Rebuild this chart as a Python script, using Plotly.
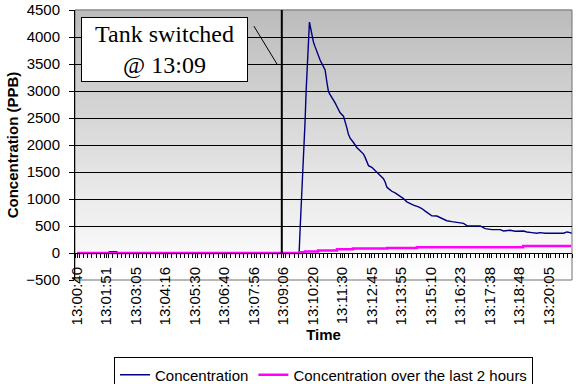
import plotly.graph_objects as go

# ---------------- data ----------------
tick_labels = ["13:00:40", "13:01:51", "13:03:05", "13:04:16", "13:05:30", "13:06:40",
               "13:07:56", "13:09:06", "13:10:20", "13:11:30", "13:12:45", "13:13:55",
               "13:15:10", "13:16:23", "13:17:38", "13:18:48", "13:20:05"]
label_every = 7          # a label every 7 samples
n_samples = 118          # samples on the category axis
tick_positions = [i * label_every for i in range(len(tick_labels))]

# Concentration (PPB), vertices (x = sample position)
conc_pos = [0, 7.4, 7.65, 9.4, 9.65, 52.6,
            52.71, 52.94, 53.18, 53.42, 53.66, 53.89, 54.13, 54.37, 54.69, 54.92, 55.16,
            55.40, 55.64, 55.87, 56.11, 56.51, 56.90, 57.30, 57.69, 58.09, 58.49, 58.88,
            59.28, 59.67, 60.07, 60.47, 60.86, 61.26, 61.65, 62.05, 62.45, 63.24, 63.63,
            64.03, 64.42, 64.82, 65.61, 66.40, 67.20, 67.99, 68.38, 68.78, 69.18, 69.97,
            70.76, 71.55, 71.95,
            72.74, 73.13, 73.53, 73.93, 74.72, 75.51, 76.30, 77.09, 77.49, 78.28, 79.07,
            79.86, 81.05, 81.84, 82.64, 83.43, 84.22, 85.41, 86.20, 86.99, 87.78, 88.97,
            90.55, 91.74, 92.53,
            95.70, 96.89, 98.47, 100.45, 101.24, 102.83, 104.01, 105.99, 106.78, 107.97,
            109.16, 109.95, 111.14, 115.5, 116.29, 117.08, 117.4]
conc_val = [0, 0, 22, 22, 0, 0,
            0, 427, 794, 1160, 1496, 1954, 2443, 2992, 3512, 3970, 4275,
            4183, 4061, 3970, 3908, 3817, 3725, 3634, 3573, 3512, 3450, 3389,
            3176, 2992, 2931, 2883, 2840, 2779, 2718, 2657, 2596, 2534, 2443,
            2321, 2198, 2125, 2046, 1954, 1893, 1832, 1771, 1679, 1618, 1588,
            1527, 1466, 1435,
            1375, 1314, 1222, 1192, 1143, 1112, 1069, 1039, 1008, 947, 916,
            886, 855, 824, 775, 733, 690, 684, 659, 622, 598, 580,
            567, 549, 506,
            500, 451, 433, 433, 408, 421, 402, 408, 390, 378,
            366, 378, 366, 366, 390, 378, 365]

# Concentration over the last 2 hours (step changes)
avg_pos = [0, 52.9, 54.1, 57.2, 61.7, 65.5, 73.6, 80.7, 105.9, 117.3]
avg_val = [0, 15, 30, 48, 68, 82, 94, 106, 130, 130]

switch_pos = 48.6        # "Tank switched @ 13:09"

# ---------------- figure ----------------
FONT = "Liberation Sans, Arial, sans-serif"

fig = go.Figure()
fig.add_trace(go.Scatter(x=conc_pos, y=conc_val, mode="lines", name="Concentration",
                         line=dict(color="#000080", width=1.4)))
fig.add_trace(go.Scatter(x=avg_pos, y=avg_val, mode="lines",
                         name="Concentration over the last 2 hours",
                         line=dict(color="#FF00FF", width=2.5, shape="hv")))

shapes = []
# vertical gradient background (grey at top to white at bottom)
n_strips = 60
for k in range(n_strips):
    f = k / (n_strips - 1)
    c = int(round(255 - (255 - 188) * f))
    shapes.append(dict(type="rect", xref="x domain", yref="y domain",
                       x0=0, x1=1, y0=k / n_strips, y1=(k + 1) / n_strips + 0.002,
                       fillcolor=f"rgb({c},{c},{c})", line=dict(width=0), layer="below"))
shapes.append(dict(type="rect", xref="x domain", yref="y domain", x0=0, x1=1, y0=0, y1=1,
                   line=dict(color="#707070", width=1), fillcolor="rgba(0,0,0,0)",
                   layer="below"))
# switch marker
shapes.append(dict(type="line", xref="x", yref="y", x0=switch_pos, x1=switch_pos,
                   y0=0, y1=4500, line=dict(color="black", width=2), layer="above"))
# leader line from the note
shapes.append(dict(type="line", xref="paper", yref="paper", x0=0.360, y0=0.940,
                   x1=0.4064, y1=0.800, line=dict(color="black", width=1)))

fig.update_layout(
    width=578, height=384,
    margin=dict(l=75, r=6, t=10, b=104, autoexpand=False),
    paper_bgcolor="white", plot_bgcolor="white",
    font=dict(family=FONT, size=15, color="black"),
    shapes=shapes,
    showlegend=True,
    legend=dict(orientation="h", x=0.5, xanchor="center", y=-0.287, yanchor="top",
                bgcolor="white", bordercolor="black", borderwidth=1,
                itemwidth=30, tracegroupgap=0,
                font=dict(family=FONT, size=15, color="black")),
    annotations=[dict(text="Tank switched<br>@ 13:09", xref="paper", yref="paper",
                      x=0.181, y=0.855, xanchor="center", yanchor="middle",
                      showarrow=False, width=165, height=63,
                      font=dict(family="Liberation Serif, Times New Roman, serif",
                                size=24, color="black"),
                      bgcolor="white", bordercolor="black", borderwidth=1, borderpad=0)],
)

fig.update_xaxes(
    type="linear", range=[-0.5, n_samples - 0.5],
    anchor="free", position=0.1,
    showline=True, linecolor="black", linewidth=1,
    showgrid=False, zeroline=False,
    tickmode="array", tickvals=tick_positions, ticktext=tick_labels,
    tickangle=-90, ticks="outside", ticklen=4, tickcolor="black",
    ticklabelstandoff=3, ticklabeloverflow="allow",
    minor=dict(tickmode="linear", tick0=-0.5, dtick=1, ticks="outside",
               ticklen=4, tickcolor="black", showgrid=False),
    tickfont=dict(family=FONT, size=15, color="black"),
    title=dict(text="<b>Time</b>", font=dict(family=FONT, size=15, color="black"),
               standoff=5),
    automargin=False,
)
fig.update_yaxes(
    range=[-500, 4500], tickmode="linear", tick0=-500, dtick=500,
    showline=True, linecolor="black", linewidth=1,
    showgrid=True, gridcolor="black", gridwidth=1, zeroline=False,
    ticks="outside", ticklen=5, tickcolor="black", ticklabelstandoff=6,
    ticklabeloverflow="allow",
    tickfont=dict(family=FONT, size=15, color="black"),
    title=dict(text="<b>Concentration (PPB)</b>",
               font=dict(family=FONT, size=15, color="black"), standoff=3),
    automargin=False,
)

fig.write_html("out.html", config={"displayModeBar": False},
               post_script="document.body.style.margin='0';document.body.style.padding='0';")
